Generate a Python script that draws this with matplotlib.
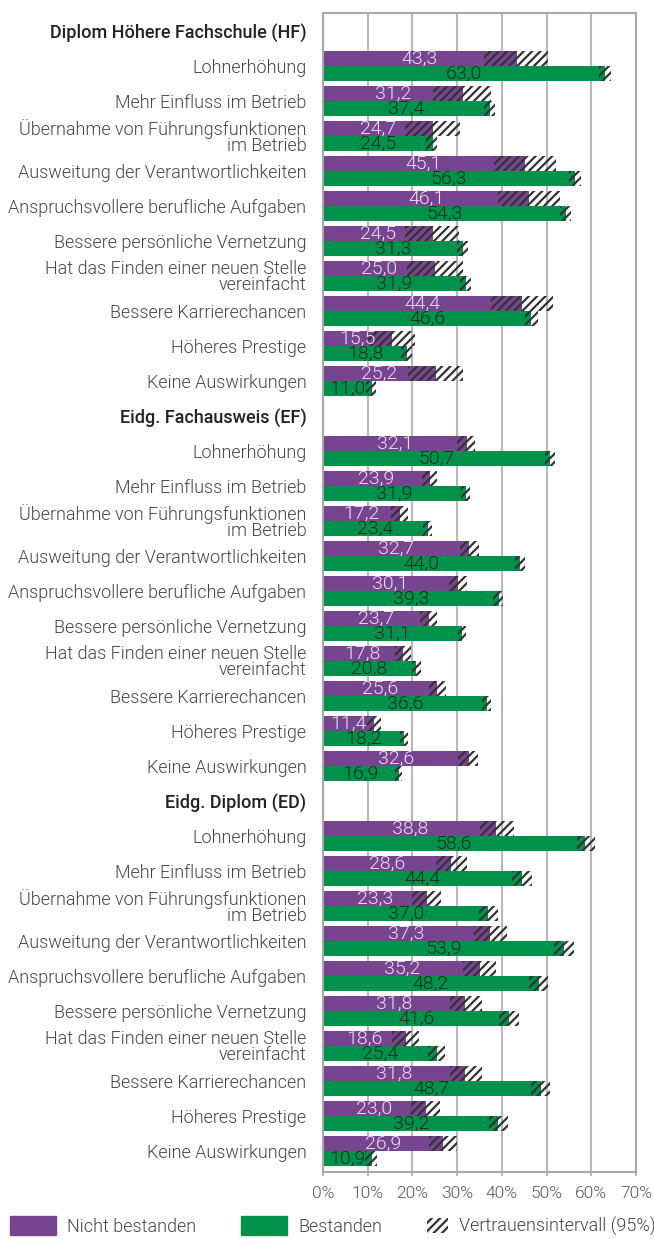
import matplotlib.pyplot as plt
from matplotlib.patches import Patch

plt.rcParams["font.family"] = ["Roboto", "DejaVu Sans"]
plt.rcParams["hatch.linewidth"] = 1.6

categories = [
    "Lohnerhöhung",
    "Mehr Einfluss im Betrieb",
    "Übernahme von Führungsfunktionen\nim Betrieb",
    "Ausweitung der Verantwortlichkeiten",
    "Anspruchsvollere berufliche Aufgaben",
    "Bessere persönliche Vernetzung",
    "Hat das Finden einer neuen Stelle\nvereinfacht",
    "Bessere Karrierechancen",
    "Höheres Prestige",
    "Keine Auswirkungen",
]
groups = ["Diplom Höhere Fachschule (HF)", "Eidg. Fachausweis (EF)", "Eidg. Diplom (ED)"]

# share in %, "nicht bestanden" / "bestanden", per group
hf_fail = [43.3, 31.2, 24.7, 45.1, 46.1, 24.5, 25.0, 44.4, 15.5, 25.2]
hf_pass = [63.0, 37.4, 24.5, 56.3, 54.3, 31.3, 31.9, 46.6, 18.8, 11.0]
ef_fail = [32.1, 23.9, 17.2, 32.7, 30.1, 23.7, 17.8, 25.6, 11.4, 32.6]
ef_pass = [50.7, 31.9, 23.4, 44.0, 39.3, 31.1, 20.8, 36.6, 18.2, 16.9]
ed_fail = [38.8, 28.6, 23.3, 37.3, 35.2, 31.8, 18.6, 31.8, 23.0, 26.9]
ed_pass = [58.6, 44.4, 37.0, 53.9, 48.2, 41.6, 25.4, 48.7, 39.2, 10.9]

# 95% confidence intervals (lower, upper)
hf_fail_lo = [36.1, 24.5, 18.3, 38.2, 39.1, 18.3, 18.7, 37.6, 10.1, 19.1]
hf_fail_hi = [50.4, 37.6, 30.7, 52.0, 53.1, 30.5, 31.2, 51.4, 20.5, 31.2]
hf_pass_lo = [61.8, 36.1, 23.1, 55.0, 52.9, 29.9, 30.6, 45.2, 17.4, 9.7]
hf_pass_hi = [64.4, 38.5, 25.4, 57.6, 55.5, 32.5, 33.2, 48.1, 19.8, 11.9]
ef_fail_lo = [29.9, 22.1, 15.3, 30.7, 28.1, 21.7, 16.0, 23.6, 9.9, 30.3]
ef_fail_hi = [34.1, 25.4, 18.9, 34.8, 32.1, 25.6, 19.6, 27.5, 12.9, 34.6]
ef_pass_lo = [49.7, 30.8, 22.3, 43.0, 38.1, 30.1, 20.0, 35.5, 17.2, 16.0]
ef_pass_hi = [51.8, 32.9, 24.3, 45.1, 40.3, 32.0, 21.9, 37.6, 19.0, 17.7]
ed_fail_lo = [35.1, 25.2, 20.0, 33.7, 31.4, 28.4, 15.5, 28.4, 19.6, 23.6]
ed_fail_hi = [42.7, 32.1, 26.5, 41.1, 38.8, 35.5, 21.5, 35.5, 26.2, 29.9]
ed_pass_lo = [56.7, 42.3, 34.9, 51.6, 46.1, 39.3, 23.4, 46.6, 37.1, 9.5]
ed_pass_hi = [60.8, 46.7, 39.1, 56.1, 50.4, 43.8, 27.2, 50.7, 41.3, 12.1]

fail_all = [hf_fail, ef_fail, ed_fail]
pass_all = [hf_pass, ef_pass, ed_pass]
fail_ci = [(hf_fail_lo, hf_fail_hi), (ef_fail_lo, ef_fail_hi), (ed_fail_lo, ed_fail_hi)]
pass_ci = [(hf_pass_lo, hf_pass_hi), (ef_pass_lo, ef_pass_hi), (ed_pass_lo, ed_pass_hi)]

PURPLE = "#77458f"
GREEN = "#00914a"
HATCH = "#333333"
BAR_H = 0.43
LIGHT = 300


def fmt(v):
    return f"{v:.1f}".replace(".", ",")


fig = plt.figure(figsize=(6.54, 12.39), dpi=100)
ax = fig.add_axes([323 / 654, 1 - 1172 / 1239, 313 / 654, (1172 - 13) / 1239])

tick_pos, tick_lab = [], []
row = 0
for g, name in enumerate(groups):
    tick_pos.append(row)
    tick_lab.append(name)
    row += 1
    for i, cat in enumerate(categories):
        y_f = row - BAR_H / 2
        y_p = row + BAR_H / 2
        vf, vp = fail_all[g][i], pass_all[g][i]
        lo_f, hi_f = fail_ci[g][0][i], fail_ci[g][1][i]
        lo_p, hi_p = pass_ci[g][0][i], pass_ci[g][1][i]
        ax.barh(y_f, vf, height=BAR_H, color=PURPLE, zorder=2)
        ax.barh(y_p, vp, height=BAR_H, color=GREEN, zorder=2)
        ax.barh(y_f, hi_f - lo_f, left=lo_f, height=BAR_H, facecolor="none",
                edgecolor=HATCH, linewidth=0, hatch="////", zorder=3)
        ax.barh(y_p, hi_p - lo_p, left=lo_p, height=BAR_H, facecolor="none",
                edgecolor=HATCH, linewidth=0, hatch="////", zorder=3)
        ax.text(vf / 2, y_f, fmt(vf), ha="center", va="center", fontsize=14,
                fontweight=LIGHT, color="#eadff2", zorder=4)
        ax.text(vp / 2, y_p, fmt(vp), ha="center", va="center", fontsize=14,
                fontweight=LIGHT, color="#16301f", zorder=4)
        tick_pos.append(row)
        tick_lab.append(cat)
        row += 1

ax.set_xlim(0, 70)
ax.set_ylim((1172 - 31) / 35, (13 - 31) / 35)
ax.set_xticks(range(0, 71, 10))
ax.set_xticklabels([f"{t}%" for t in range(0, 71, 10)], fontsize=12.5,
                   fontweight=LIGHT, color="#555555")
ax.set_yticks(tick_pos)
ax.set_yticklabels(tick_lab, fontsize=13, linespacing=0.85)
for lab in ax.get_yticklabels():
    if lab.get_text() in groups:
        lab.set_fontweight("medium")
        lab.set_color("#222222")
    else:
        lab.set_fontweight(LIGHT)
        lab.set_color("#444444")
ax.tick_params(axis="y", length=0, pad=12)
ax.tick_params(axis="x", length=3, color="#a8a8a8", width=1.2, pad=7)
ax.grid(axis="x", color="#b8b8b8", linewidth=1.5, zorder=0)
ax.set_axisbelow(True)
for side in ["left", "right", "top", "bottom"]:
    ax.spines[side].set_color("#a8a8a8")
    ax.spines[side].set_linewidth(1.5)

legend_kw = dict(frameon=False, loc="center left", borderpad=0, borderaxespad=0,
                 labelcolor="#444444", prop={"weight": LIGHT, "size": 13})
fig.legend([Patch(color=PURPLE)], ["Nicht bestanden"], bbox_to_anchor=(10 / 654, 0.0105),
           handlelength=2.55, handleheight=1.2, handletextpad=0.6, **legend_kw)
fig.legend([Patch(color=GREEN)], ["Bestanden"], bbox_to_anchor=(241 / 654, 0.0105),
           handlelength=2.55, handleheight=1.2, handletextpad=0.6, **legend_kw)
fig.legend([Patch(facecolor="none", edgecolor=HATCH, linewidth=0, hatch="////")],
           ["Vertrauensintervall (95%)"], bbox_to_anchor=(427 / 654, 0.0105),
           handlelength=1.15, handleheight=0.9, handletextpad=0.6, **legend_kw)

fig.savefig("out.png", dpi=100)
